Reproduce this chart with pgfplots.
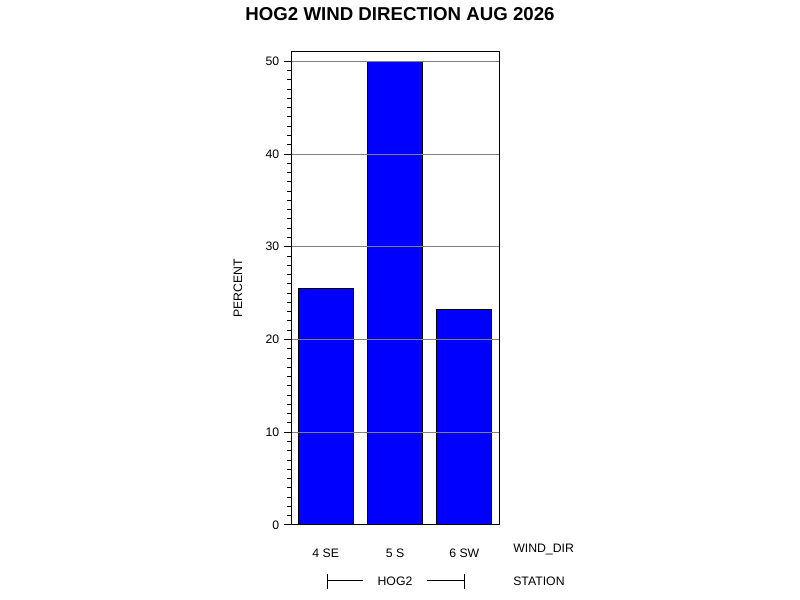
\documentclass[border=0pt]{standalone}
\usepackage{fontspec}
\setmainfont{Liberation Sans}
\usepackage{pgfplots}
\pgfplotsset{compat=1.18}
\definecolor{barblue}{RGB}{0,0,255}
\definecolor{gridgray}{RGB}{128,128,128}
\newcommand{\px}[2]{({#1*0.75pt},{(600-#2)*0.75pt})}
\begin{document}
\begin{tikzpicture}
\path[use as bounding box] (0,0) rectangle (600pt,450pt);
\begin{axis}[
  at={(218.25pt,56.25pt)}, anchor=south west,
  scale only axis, width=156pt, height=354.75pt,
  xmin=-0.5, xmax=2.5, ymin=0, ymax=51,
  xtick={0,1,2}, xticklabels={4 SE,5 S,6 SW},
  major x tick style={draw=none},
  ytick={0,10,20,30,40,50}, minor y tick num=9,
  ytick pos=left,
  tick align=outside,
  major tick length=5.25pt, minor tick length=3pt,
  ymajorgrids, major grid style={gridgray, line width=0.75pt},
  axis line style={line width=0.75pt},
  every tick/.style={black, line width=0.75pt},
  axis on top,
  /pgf/number format/assume math mode=true,
  tick label style={font=\fontsize{9.2}{11}\selectfont},
  xticklabel style={yshift=-9pt},
  ylabel={PERCENT},
  ylabel style={font=\fontsize{9.2}{11}\selectfont, at={(axis description cs:0,0.5)}, anchor=center, rotate=0, yshift=39.75pt},
  ybar, bar width=0.79,
  clip=false,
]
\addplot[fill=barblue, draw=black, line width=0.75pt] coordinates {(0,25.55) (1,50.0) (2,23.28)};
\end{axis}
\node[font=\bfseries\fontsize{14}{16}\selectfont] at \px{400}{14} {HOG2 WIND DIRECTION AUG 2026};
\node[font=\fontsize{9.2}{11}\selectfont, anchor=west, inner sep=0pt] at \px{513}{549} {WIND\_DIR};
\node[font=\fontsize{9.2}{11}\selectfont, anchor=west, inner sep=0pt] at \px{513}{581} {STATION};
\node[font=\fontsize{9.2}{11}\selectfont, inner sep=0pt] at \px{395}{581} {HOG2};
\draw[line width=0.75pt] \px{327}{581} -- \px{363}{581};
\draw[line width=0.75pt] \px{427}{581} -- \px{464}{581};
\draw[line width=0.75pt] \px{327}{574} -- \px{327}{589};
\draw[line width=0.75pt] \px{464}{574} -- \px{464}{589};
\end{tikzpicture}
\end{document}
